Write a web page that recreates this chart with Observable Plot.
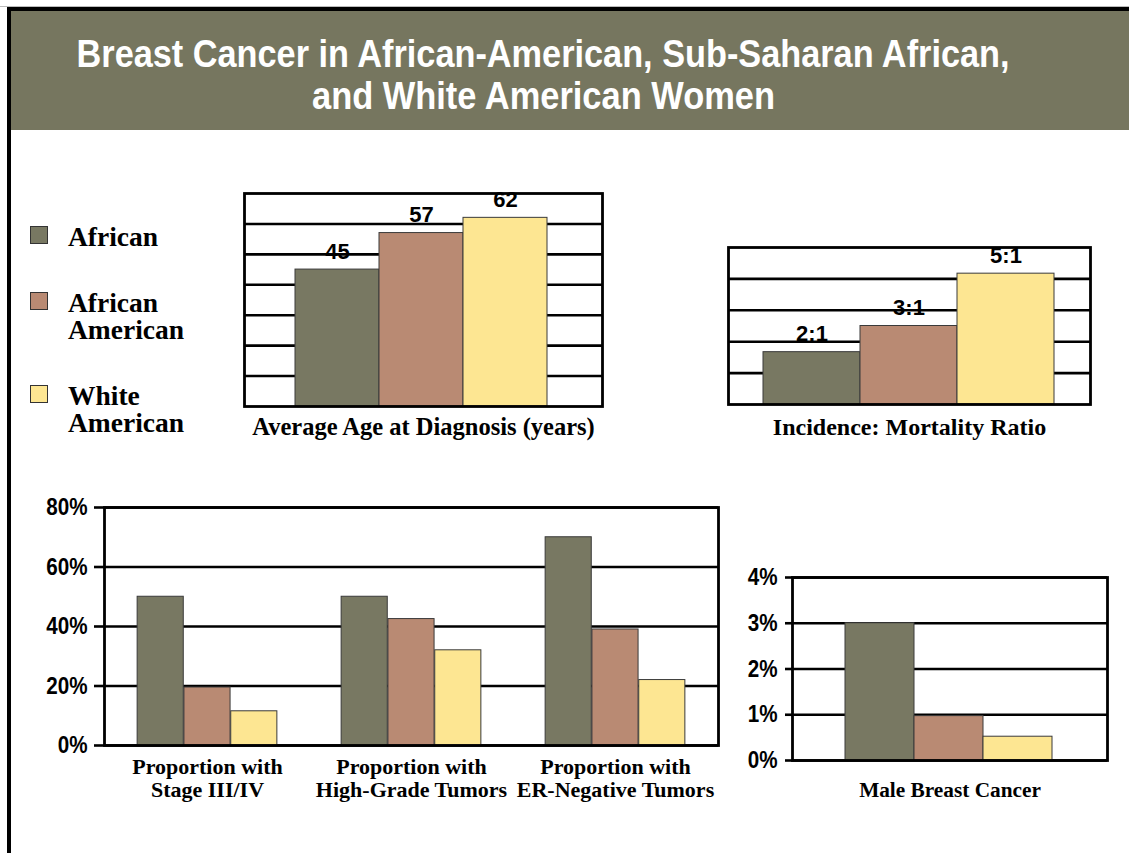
<!DOCTYPE html>
<html><head><meta charset="utf-8">
<script src="https://cdn.jsdelivr.net/npm/d3@7"></script>
<script src="https://cdn.jsdelivr.net/npm/@observablehq/plot@0.6"></script>
<style>
body{margin:0;background:#fff;}
#page{position:relative;width:1129px;height:853px;overflow:hidden;background:#fff;}
#topline{position:absolute;left:0;top:6px;width:1129px;height:1px;background:#bbb;}
#btop{position:absolute;left:7px;top:7px;width:1122px;height:4px;background:#000;}
#bleft{position:absolute;left:7px;top:7px;width:4px;height:846px;background:#000;}
#band{position:absolute;left:11px;top:11px;width:1118px;height:119px;background:#76765f;}
.tline{position:absolute;left:0;width:1087px;text-align:center;color:#fff;white-space:nowrap;
  font-family:"Liberation Sans",Arial,sans-serif;font-weight:bold;font-size:38px;line-height:38px;}
.tline span{display:inline-block;transform-origin:center center;}
.leg{position:absolute;left:30px;}
.leg .sw{position:absolute;left:0;width:16px;height:16px;border:1px solid #333;}
.leg .tx{position:absolute;left:38px;white-space:pre;font-family:"Liberation Serif","DejaVu Serif",serif;font-weight:bold;font-size:27.5px;line-height:27px;color:#000;}
.chart{position:absolute;}
</style></head>
<body><div id="page">
<div id="topline"></div><div id="btop"></div><div id="bleft"></div>
<div id="band"></div>
<div class="tline" id="t1" style="top:35px"><span>Breast Cancer in African-American, Sub-Saharan African,</span></div>
<div class="tline" id="t2" style="top:77px"><span>and White American Women</span></div>
<div id="legend"></div>
<div class="chart" id="cA" style="left:230px;top:170px"></div>
<div class="chart" id="cB" style="left:715px;top:225px"></div>
<div class="chart" id="cC" style="left:20px;top:490px"></div>
<div class="chart" id="cD" style="left:730px;top:555px"></div>
</div>
<script>
// ---- data ----
const series = ["African", "African American", "White American"];
const legendLabels = ["African", "African\nAmerican", "White\nAmerican"];
const colors = ["#787862", "#b98a73", "#fde692"];

const ageValues = [45, 57, 62];
const ageLabels = ["45", "57", "62"];
const ageGrid = [10, 20, 30, 40, 50, 60];
const ageCaption = "Average Age at Diagnosis (years)";

const ratioValues = [2, 3, 5];
const ratioLabels = ["2:1", "3:1", "5:1"];
const ratioGrid = [1.2, 2.4, 3.6, 4.8];
const ratioCaption = "Incidence: Mortality Ratio";

const groups = ["Proportion with\nStage III/IV", "Proportion with\nHigh-Grade Tumors", "Proportion with\nER-Negative Tumors"];
const africanPct = [50, 50, 70];
const africanAmericanPct = [19.5, 42.5, 39];
const whiteAmericanPct = [11.5, 32, 22];
const pctTicks = [0, 20, 40, 60, 80];

const maleValues = [3, 0.97, 0.52];
const maleTicks = [0, 1, 2, 3, 4];
const maleCaption = "Male Breast Cancer";

// ---- styles ----
const SANS = '"Liberation Sans",Arial,sans-serif';
const SERIF = '"Liberation Serif","DejaVu Serif",serif';
const colorScale = {domain: series, range: colors};
const barStyle = {stroke: "#3a3a3a", strokeWidth: 1};
const gridStyle = {stroke: "#000", strokeWidth: 2.6};
const frameStyle = {stroke: "#000", strokeWidth: 2.8};
const valueText = {fontFamily: SANS, fontWeight: "bold", fontSize: 22, fill: "#000", ariaLabel: "cond"};

// condense bold sans text horizontally about its anchor (no condensed face installed)
function condense(svg, sx) {
  svg.querySelectorAll('g[aria-label="cond"] text, g[aria-label="y-axis tick label"] text').forEach(t => {
    const xs = t.x && t.x.baseVal;
    const x = xs && xs.numberOfItems ? xs.getItem(0).value : 0;
    const tr = t.getAttribute("transform") || "";
    t.setAttribute("transform", `${tr} translate(${x},0) scale(${sx},1) translate(${-x},0)`);
  });
  return svg;
}

// ---- title fit ----
[["t1", 933], ["t2", 463]].forEach(([id, w]) => {
  const s = document.querySelector("#" + id + " span");
  s.style.transform = `scaleX(${w / s.getBoundingClientRect().width})`;
});

// ---- legend ----
const legTops = [226, 292, 385];
const legend = document.getElementById("legend");
series.forEach((s, i) => {
  const d = document.createElement("div");
  d.className = "leg"; d.style.top = legTops[i] + "px";
  d.innerHTML = `<div class="sw" style="background:${colors[i]};top:0"></div><div class="tx" style="top:-3px">${legendLabels[i]}</div>`;
  legend.appendChild(d);
});

// ---- chart A: age ----
const ageData = series.map((s, i) => ({series: s, value: ageValues[i], label: ageLabels[i]}));
document.getElementById("cA").append(condense(Plot.plot({
  width: 390, height: 275, marginLeft: 14, marginRight: 18, marginTop: 23, marginBottom: 39,
  x: {domain: series, range: [64, 318], padding: 0, axis: null},
  y: {domain: [0, 70], axis: null},
  color: colorScale,
  marks: [
    Plot.ruleY(ageGrid, gridStyle),
    Plot.barY(ageData, {x: "series", y: "value", fill: "series", ...barStyle}),
    Plot.text(ageData, {x: "series", y: "value", text: "label", dy: -11, lineAnchor: "bottom", ...valueText}),
    Plot.frame(frameStyle),
    Plot.text([ageCaption], {text: d => d, frameAnchor: "bottom", lineAnchor: "top", dy: 11, fontFamily: SERIF, fontWeight: "bold", fontSize: 24.5, fill: "#000"})
  ]
}), 0.82));

// ---- chart B: ratio ----
const ratioData = series.map((s, i) => ({series: s, value: ratioValues[i], label: ratioLabels[i]}));
document.getElementById("cB").append(condense(Plot.plot({
  width: 395, height: 225, marginLeft: 13, marginRight: 20, marginTop: 22, marginBottom: 46,
  x: {domain: series, range: [48, 339], padding: 0, axis: null},
  y: {domain: [0, 6], axis: null},
  color: colorScale,
  marks: [
    Plot.ruleY(ratioGrid, gridStyle),
    Plot.barY(ratioData, {x: "series", y: "value", fill: "series", ...barStyle}),
    Plot.text(ratioData, {x: "series", y: "value", text: "label", dy: -11, lineAnchor: "bottom", ...valueText}),
    Plot.frame(frameStyle),
    Plot.text([ratioCaption], {text: d => d, frameAnchor: "bottom", lineAnchor: "top", dy: 13, fontFamily: SERIF, fontWeight: "bold", fontSize: 24, fill: "#000"})
  ]
}), 0.82));

// ---- chart C: proportions ----
const pctSeries = [africanPct, africanAmericanPct, whiteAmericanPct];
const barW = 46.8, bandW = 614 / 3, inset = (bandW - barW) / 2;
const pctMarks = pctSeries.map((vals, si) =>
  Plot.barY(groups.map((g, gi) => ({group: g, series: series[si], value: vals[gi]})),
    {x: "group", y: "value", fill: "series", insetLeft: inset, insetRight: inset, dx: (si - 1) * barW, ...barStyle}));
document.getElementById("cC").append(condense(Plot.plot({
  width: 710, height: 320, marginLeft: 84, marginRight: 12, marginTop: 17, marginBottom: 65,
  x: {domain: groups, padding: 0, label: null},
  y: {domain: [0, 80], label: null},
  color: colorScale,
  marks: [
    Plot.ruleY(pctTicks, gridStyle),
    ...pctMarks,
    Plot.frame(frameStyle),
    Plot.axisY(pctTicks, {tickFormat: d => d + "%", tickSize: 10, tickPadding: 7, stroke: "#000", strokeWidth: 2.6, fontFamily: SANS, fontWeight: "bold", fontSize: 24, fill: "#000", label: null}),
    Plot.axisX({tickSize: 0, tickPadding: 12, fontFamily: SERIF, fontWeight: "bold", fontSize: 22, lineHeight: 1.05, fill: "#000", label: null})
  ]
}), 0.86));

// ---- chart D: male ----
const maleData = series.map((s, i) => ({series: s, value: maleValues[i]}));
document.getElementById("cD").append(condense(Plot.plot({
  width: 390, height: 260, marginLeft: 62, marginRight: 13, marginTop: 22, marginBottom: 55,
  x: {domain: series, range: [114, 323], padding: 0, axis: null},
  y: {domain: [0, 4], label: null},
  color: colorScale,
  marks: [
    Plot.ruleY(maleTicks, gridStyle),
    Plot.barY(maleData, {x: "series", y: "value", fill: "series", ...barStyle}),
    Plot.frame(frameStyle),
    Plot.axisY(maleTicks, {tickFormat: d => d + "%", tickSize: 7, tickPadding: 8, stroke: "#000", strokeWidth: 2.6, fontFamily: SANS, fontWeight: "bold", fontSize: 24, fill: "#000", label: null}),
    Plot.text([maleCaption], {text: d => d, frameAnchor: "bottom", lineAnchor: "top", dy: 21, fontFamily: SERIF, fontWeight: "bold", fontSize: 21.3, fill: "#000"})
  ]
}), 0.86));
</script>
</body></html>
